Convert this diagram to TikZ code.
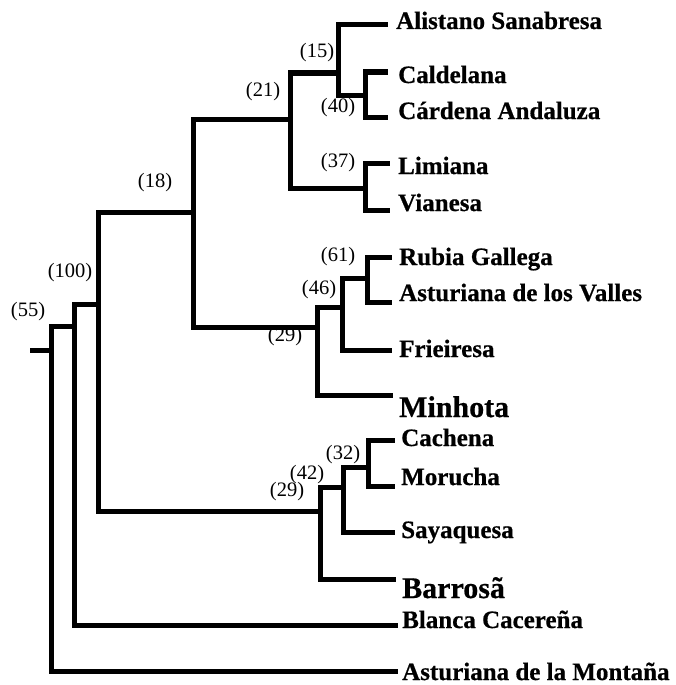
\documentclass[tikz,border=0pt]{standalone}
\usepackage{fontspec}
\setmainfont{Liberation Serif}[BoldFeatures={FakeBold=0.6}]
\begin{document}
\begin{tikzpicture}[x=1pt,y=-1pt,
  br/.style={line width=5pt, line join=miter},
  leaf/.style={anchor=base west, inner sep=0pt, font=\fontsize{25}{30}\selectfont\bfseries},
  bigleaf/.style={leaf, font=\fontsize{30}{36}\selectfont\bfseries},
  bs/.style={inner sep=0pt, font=\fontsize{20.5}{24}\selectfont}]
\useasboundingbox (0,0) rectangle (675,685);
% leaf line ends
\coordinate (L1) at (388,25);
\coordinate (L2) at (388,72);
\coordinate (L3) at (388,117);
\coordinate (L4) at (390,163);
\coordinate (L5) at (390,210);
\coordinate (L6) at (392,257);
\coordinate (L7) at (392,302);
\coordinate (L8) at (392,350);
\coordinate (L9) at (393,395);
\coordinate (L10) at (395,440);
\coordinate (L11) at (395,486);
\coordinate (L12) at (395,532);
\coordinate (L13) at (396,579);
\coordinate (L14) at (398,625);
\coordinate (L15) at (398,671);
% internal nodes (attachment points)
\coordinate (n40) at (365,95);
\coordinate (n15) at (338,73);
\coordinate (n37) at (365,188);
\coordinate (n21) at (290,119);
\coordinate (n61) at (367,278);
\coordinate (n46) at (342,307);
\coordinate (n29a) at (317,327);
\coordinate (n18) at (193,212);
\coordinate (n32) at (368,467);
\coordinate (n42) at (343,487);
\coordinate (n29b) at (320,511);
\coordinate (n100) at (98,304);
\coordinate (n55) at (74,326);
\coordinate (root) at (51,350);
\coordinate (stub) at (30,350);
% branches
\draw[br] (n40) |- (L2);  \draw[br] (n40) |- (L3);
\draw[br] (n15) |- (L1);  \draw[br] (n15) |- (n40);
\draw[br] (n37) |- (L4);  \draw[br] (n37) |- (L5);
\draw[br] (n21) |- (n15); \draw[br] (n21) |- (n37);
\draw[br] (n61) |- (L6);  \draw[br] (n61) |- (L7);
\draw[br] (n46) |- (n61); \draw[br] (n46) |- (L8);
\draw[br] (n29a) |- (n46); \draw[br] (n29a) |- (L9);
\draw[br] (n18) |- (n21); \draw[br] (n18) |- (n29a);
\draw[br] (n32) |- (L10); \draw[br] (n32) |- (L11);
\draw[br] (n42) |- (n32); \draw[br] (n42) |- (L12);
\draw[br] (n29b) |- (n42); \draw[br] (n29b) |- (L13);
\draw[br] (n100) |- (n18); \draw[br] (n100) |- (n29b);
\draw[br] (n55) |- (n100); \draw[br] (n55) |- (L14);
\draw[br] (root) |- (n55); \draw[br] (root) |- (L15);
\draw[br] (stub) -- (root);
% leaf labels
\node[leaf] (t1) at (396,29) {Alistano Sanabresa};
\node[leaf] (t2) at (398,83) {Caldelana};
\node[leaf] (t3) at (398,119) {Cárdena Andaluza};
\node[leaf] (t4) at (398,174) {Limiana};
\node[leaf] (t5) at (398,211) {Vianesa};
\node[leaf] (t6) at (399,265) {Rubia Gallega};
\node[leaf] (t7) at (399,301) {Asturiana de los Valles};
\node[leaf] (t8) at (399,357) {Frieiresa};
\node[bigleaf] (t9) at (399,417) {Minhota};
\node[leaf] (t10) at (401,446) {Cachena};
\node[leaf] (t11) at (401,485) {Morucha};
\node[leaf] (t12) at (401,538) {Sayaquesa};
\node[bigleaf] (t13) at (402,598) {Barrosã};
\node[leaf] (t14) at (402,628) {Blanca Cacereña};
\node[leaf] (t15) at (402,680) {Asturiana de la Montaña};
% bootstrap values
\node[bs] (b55) at (28,312) {(55)};
\node[bs] (b100) at (70,273) {(100)};
\node[bs] (b18) at (155,183) {(18)};
\node[bs] (b21) at (263,92) {(21)};
\node[bs] (b15) at (317,53) {(15)};
\node[bs] (b40) at (338,108) {(40)};
\node[bs] (b37) at (338,163) {(37)};
\node[bs] (b61) at (338,257) {(61)};
\node[bs] (b46) at (319,290) {(46)};
\node[bs] (b29a) at (285,337) {(29)};
\node[bs] (b32) at (343,455) {(32)};
\node[bs] (b42) at (307,475) {(42)};
\node[bs] (b29b) at (287,492) {(29)};
\end{tikzpicture}
\end{document}
